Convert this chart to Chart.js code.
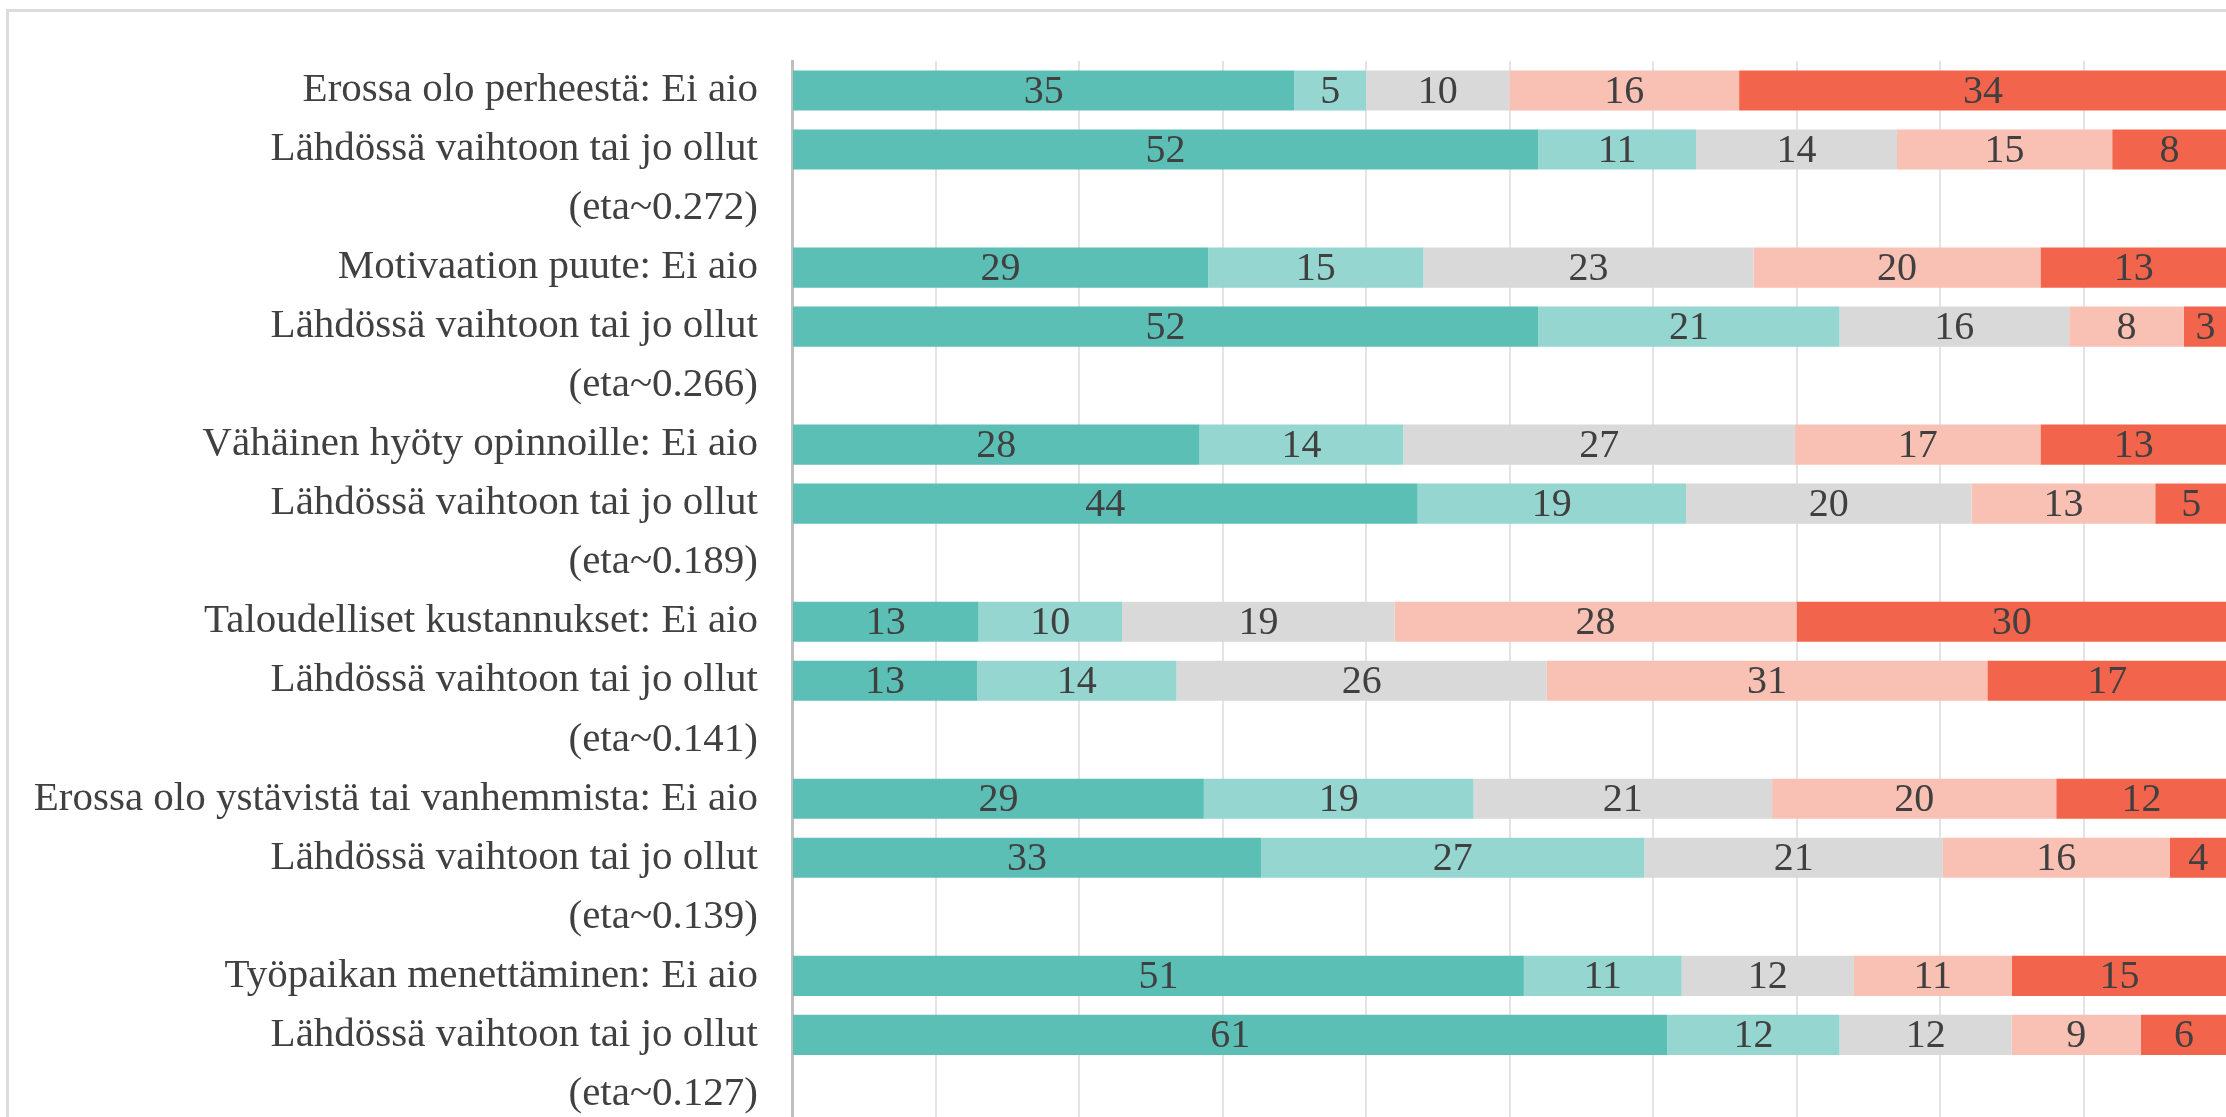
<!DOCTYPE html>
<html>
<head>
<meta charset="utf-8">
<script src="https://cdn.jsdelivr.net/npm/chart.js@4"></script>
<style>
  html, body { margin: 0; padding: 0; background: #fff; overflow: hidden; }
  #frame { position: absolute; left: 6px; top: 9px; width: 2300px; height: 1200px;
           border-top: 3px solid #dcdcdc; border-left: 3px solid #dcdcdc; }
  #wrap { position: absolute; left: 0; top: 0; }
</style>
</head>
<body>
<div id="frame"></div>
<div id="wrap"><canvas id="myChart" width="2228" height="1182"></canvas></div>
<script>
const labels = [
    'Erossa olo perheestä: Ei aio', 'Lähdössä vaihtoon tai jo ollut', '(eta~0.272)',
    'Motivaation puute: Ei aio', 'Lähdössä vaihtoon tai jo ollut', '(eta~0.266)',
    'Vähäinen hyöty opinnoille: Ei aio', 'Lähdössä vaihtoon tai jo ollut', '(eta~0.189)',
    'Taloudelliset kustannukset: Ei aio', 'Lähdössä vaihtoon tai jo ollut', '(eta~0.141)',
    'Erossa olo ystävistä tai vanhemmista: Ei aio', 'Lähdössä vaihtoon tai jo ollut', '(eta~0.139)',
    'Työpaikan menettäminen: Ei aio', 'Lähdössä vaihtoon tai jo ollut', '(eta~0.127)'
];

// five answer levels, from left (teal) to right (red)
const level1 = [35, 52, null, 29, 52, null, 28.4, 43.6, null, 13, 12.9, null, 28.7, 32.7, null, 51, 61, null];
const level2 = [5, 11, null, 15, 21, null, 14.2, 18.7, null, 10, 13.9, null, 18.8, 26.7, null, 11, 12, null];
const level3 = [10, 14, null, 23, 16, null, 27.3, 19.9, null, 19, 25.8, null, 20.8, 20.8, null, 12, 12, null];
const level4 = [16, 15, null, 20, 8, null, 17.1, 12.8, null, 28, 30.7, null, 19.8, 15.8, null, 11, 9, null];
const level5 = [34, 8, null, 13, 3, null, 13.0, 5.0, null, 30, 16.7, null, 11.9, 4.0, null, 15, 6, null];

const colors = ['#5cbfb6', '#95d6d0', '#d9d9d9', '#f9c0b4', '#f2644c'];

// centred value labels, clipped to the visible part of the bar
const valueLabels = {
    id: 'valueLabels',
    afterDatasetsDraw(chart) {
        const c = chart.ctx;
        const area = chart.chartArea;
        c.save();
        c.font = '40px "Liberation Serif", "Times New Roman", serif';
        c.fillStyle = '#404040';
        c.textAlign = 'center';
        c.textBaseline = 'middle';
        chart.data.datasets.forEach((ds, i) => {
            chart.getDatasetMeta(i).data.forEach((bar, j) => {
                const v = ds.data[j];
                if (v == null) return;
                const a = Math.max(Math.min(bar.x, bar.base), area.left);
                const b = Math.min(Math.max(bar.x, bar.base), area.right);
                c.fillText(Math.round(v), (a + b) / 2, bar.y + 2);
            });
        });
        c.restore();
    }
};

const ctx = document.getElementById('myChart');
const myChart = new Chart(ctx, {
    type: 'bar',
    data: {
        labels: labels,
        datasets: [level1, level2, level3, level4, level5].map((d, i) => ({
            data: d,
            backgroundColor: colors[i],
            borderWidth: 0,
            categoryPercentage: 1,
            barPercentage: 0.68
        }))
    },
    options: {
        indexAxis: 'y',
        responsive: false,
        animation: false,
        layout: { padding: { top: 61, right: 1, bottom: 0, left: 0 } },
        scales: {
            x: {
                stacked: true,
                min: 0,
                max: 100,
                ticks: { display: false, stepSize: 10 },
                grid: { color: '#e4e4e4', lineWidth: 2, drawTicks: false },
                border: { display: false }
            },
            y: {
                stacked: true,
                afterFit(scale) { scale.width = 792; },
                ticks: {
                    color: '#404040',
                    padding: 34,
                    autoSkip: false,
                    font: { family: '"Liberation Serif", "Times New Roman", serif', size: 41 }
                },
                grid: { display: false, drawTicks: false },
                border: { color: '#bfbfbf', width: 3 }
            }
        },
        plugins: {
            legend: { display: false },
            tooltip: { enabled: false }
        }
    },
    plugins: [valueLabels]
});
</script>
</body>
</html>
